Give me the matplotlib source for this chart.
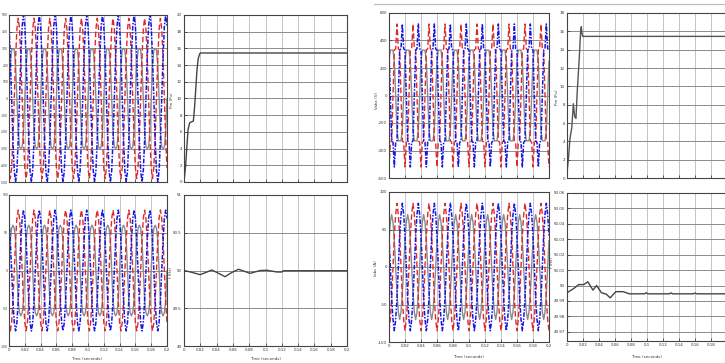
import numpy as np
import matplotlib
matplotlib.use("Agg")
import matplotlib.pyplot as plt
from matplotlib.lines import Line2D

# one cycle (50 Hz, 12 samples) of each phase
n_cycles = 10

# left group, voltages (V)
v_left_blue = [433, 250, 0, -250, -433, -500, -433, -250, 0, 250, 433, 500]
v_left_red = [-416, -480, -416, -240, 0, 240, 416, 480, 416, 240, 0, -240]
v_left_gray = [0, 200, 290, 300, 290, 200, 0, -200, -290, -300, -290, -200]

# left group, currents (A)
i_left_blue = [69, 40, 0, -40, -69, -80, -69, -40, 0, 40, 69, 80]
i_left_red = [-69, -80, -69, -40, 0, 40, 69, 80, 69, 40, 0, -40]
i_left_gray = [0, 40, 56, 60, 56, 40, 0, -40, -56, -60, -56, -40]

# right group, voltages (V)
v_right_blue = [330, 0, -330, -340, -520, -340, -330, 0, 330, 340, 520, 340]
v_right_red = [-520, -340, -330, 0, 330, 340, 520, 340, 330, 0, -330, -340]
v_right_gray = [250, 330, 330, 330, 250, 0, -250, -330, -330, -330, -250, 0]

# right group, currents (A)
i_right_blue = [42, 0, -42, -70, -85, -70, -42, 0, 42, 70, 85, 70]
i_right_red = [-85, -70, -42, 0, 42, 70, 85, 70, 42, 0, -42, -70]
i_right_gray = [35, 60, 70, 60, 35, 0, -35, -60, -70, -60, -35, 0]

# mechanical power (pu)
pm_left_t = [0, 0.002, 0.005, 0.007, 0.0115, 0.013, 0.016, 0.0175, 0.0195, 0.0205, 0.2]
pm_left = [0, 2.0, 6.3, 7.1, 7.3, 9.0, 13.5, 14.8, 15.4, 15.45, 15.45]
pm_right_t = [0, 0.0004, 0.0021, 0.0037, 0.006, 0.0079, 0.0096, 0.0112, 0.0129,
              0.0154, 0.0171, 0.0179, 0.0187, 0.0196, 0.2]
pm_right = [0, 0.9, 2.4, 4.3, 5.5, 8.1, 6.7, 6.5, 9.6, 13.2, 16.1, 16.5, 15.8, 15.45, 15.45]

# frequency (Hz)
f_left_t = [0, 0.01, 0.0197, 0.027, 0.034, 0.042, 0.0504, 0.058, 0.0668, 0.074,
            0.081, 0.0935, 0.1016, 0.11, 0.114, 0.12, 0.122, 0.2]
f_left = [50.0, 49.975, 49.945, 49.975, 50.007, 49.965, 49.918, 49.97, 50.016, 49.99,
          49.962, 50.0, 50.003, 49.988, 49.98, 49.98, 49.997, 49.997]
f_right_t = [0, 0.0083, 0.0146, 0.021, 0.026, 0.0325, 0.037, 0.043, 0.049, 0.054,
             0.061, 0.07, 0.078, 0.097, 0.099, 0.101, 0.128, 0.13, 0.132, 0.158,
             0.16, 0.162, 0.2]
f_right = [49.9953, 49.998, 50.0006, 50.0006, 50.0024, 49.997, 50.0, 49.9953, 49.9944,
           49.992, 49.996, 49.996, 49.9946, 49.9946, 49.9953, 49.9946, 49.9946, 49.9952,
           49.9946, 49.9946, 49.9951, 49.9946, 49.9946]

x_ticks = [0, 0.02, 0.04, 0.06, 0.08, 0.1, 0.12, 0.14, 0.16, 0.18, 0.2]
x_labels = ["0", "0.02", "0.04", "0.06", "0.08", "0.1", "0.12", "0.14", "0.16", "0.18", "0.2"]

W, H = 725, 363
fig = plt.figure(figsize=(W / 100, H / 100), dpi=100)
fig.patch.set_facecolor("white")
FS = 2.9


def px_axes(x0, y0, x1, y1):
    return fig.add_axes([x0 / W, 1 - y1 / H, (x1 - x0) / W, (y1 - y0) / H])


def style(ax, yticks, ylabels, ylim, show_x, yfs=FS, xlabels=x_labels):
    ax.set_xlim(0, 0.2)
    ax.set_ylim(*ylim)
    ax.set_xticks(x_ticks)
    ax.set_yticks(yticks)
    ax.set_yticklabels(ylabels)
    if show_x:
        ax.set_xticklabels(xlabels)
    else:
        ax.set_xticklabels([])
    ax.tick_params(direction="in", length=2, width=0.5, labelsize=FS, pad=1.5, colors="#333333")
    ax.tick_params(axis="y", labelsize=yfs, pad=1.5 if yfs == FS else 0.6)
    ax.yaxis.grid(True, color="#8c8c8c", lw=0.7)
    ax.xaxis.grid(True, color="#c4c4c4", lw=0.7)
    ax.set_axisbelow(True)
    for s in ax.spines.values():
        s.set_color("#444444")
        s.set_linewidth(0.8)


def periodic(cycle):
    return np.append(np.tile(cycle, n_cycles), cycle[0])


t = np.linspace(0, 0.2, 12 * n_cycles + 1)


def three_phase(ax, blue, red, gray):
    ax.plot(t, periodic(gray), color="#8a8a8a", lw=1.0)
    ax.plot(t, periodic(red), color="#e02828", lw=1.0, ls=(0, (4, 2)))
    ax.plot(t, periodic(blue), color="#1515e6", lw=1.1, ls=(0, (3, 1, 1, 1)))


# ---- left group
ax = px_axes(9, 15, 167, 182)
three_phase(ax, v_left_blue, v_left_red, v_left_gray)
yt = list(range(-500, 501, 100))
style(ax, yt, [str(v) for v in yt], (-500, 500), False, yfs=2.2)

ax = px_axes(184, 15, 347, 182)
ax.plot(pm_left_t, pm_left, color="#444444", lw=1.0)
yt = list(range(0, 21, 2))
style(ax, yt, [str(v) for v in yt], (0, 20), False)

ax = px_axes(9, 195, 167, 346)
three_phase(ax, i_left_blue, i_left_red, i_left_gray)
yt = [-100, -50, 0, 50, 100]
style(ax, yt, [str(v) for v in yt], (-100, 100), True, yfs=2.2)

ax = px_axes(184, 195, 347, 346)
ax.plot(f_left_t, f_left, color="#444444", lw=1.0)
yt = [49, 49.5, 50, 50.5, 51]
style(ax, yt, ["49", "49.5", "50", "50.5", "51"], (49, 51), True)

# ---- right group
ax = px_axes(389, 13, 549, 178)
three_phase(ax, v_right_blue, v_right_red, v_right_gray)
yt = list(range(-600, 601, 200))
style(ax, yt, [str(v) for v in yt], (-600, 600), False)

ax = px_axes(567, 13, 727, 178)
ax.plot(pm_right_t, pm_right, color="#555555", lw=1.0)
yt = list(range(0, 19, 2))
style(ax, yt, [str(v) for v in yt], (0, 18), False)

ax = px_axes(389, 192, 549, 342)
three_phase(ax, i_right_blue, i_right_red, i_right_gray)
yt = [-100, -50, 0, 50, 100]
style(ax, yt, [str(v) for v in yt], (-100, 100), True)

ax = px_axes(567, 193, 727, 341)
ax.plot(f_right_t, f_right, color="#444444", lw=1.0)
yt = [49.97, 49.98, 49.99, 50, 50.01, 50.02, 50.03, 50.04, 50.05, 50.06]
# the last tick label (0.2) falls past the right edge of the picture
style(ax, yt, ["49.97", "49.98", "49.99", "50", "50.01", "50.02", "50.03",
               "50.04", "50.05", "50.06"], (49.964, 50.06), True,
      xlabels=x_labels[:-1] + [""])

# axis titles
lab = dict(fontsize=FS, color="#333333", ha="center", va="center")
fig.text(172 / W, 1 - 100 / H, "Pm (Pu)", rotation=90, **lab)
fig.text(171 / W, 1 - 272 / H, "f (Hz)", rotation=90, **lab)
fig.text(377 / W, 1 - 100 / H, "Vabc (V)", rotation=90, **lab)
fig.text(376 / W, 1 - 268 / H, "Iabc (A)", rotation=90, **lab)
fig.text(557 / W, 1 - 97 / H, "Pm (Pu)", rotation=90, **lab)
fig.text(552 / W, 1 - 263 / H, "f (Hz)", rotation=90, **lab)
fig.text(87 / W, 1 - 359 / H, "Time (seconds)", **lab)
fig.text(266 / W, 1 - 359 / H, "Time (seconds)", **lab)
fig.text(469 / W, 1 - 357 / H, "Time (seconds)", **lab)
fig.text(647 / W, 1 - 357 / H, "Time (seconds)", **lab)

# thin frame line above the right-hand figure
fig.add_artist(Line2D([374 / W, 1], [1 - 4 / H, 1 - 4 / H], color="#bbbbbb", lw=0.8))

fig.savefig("out.png", dpi=100)
